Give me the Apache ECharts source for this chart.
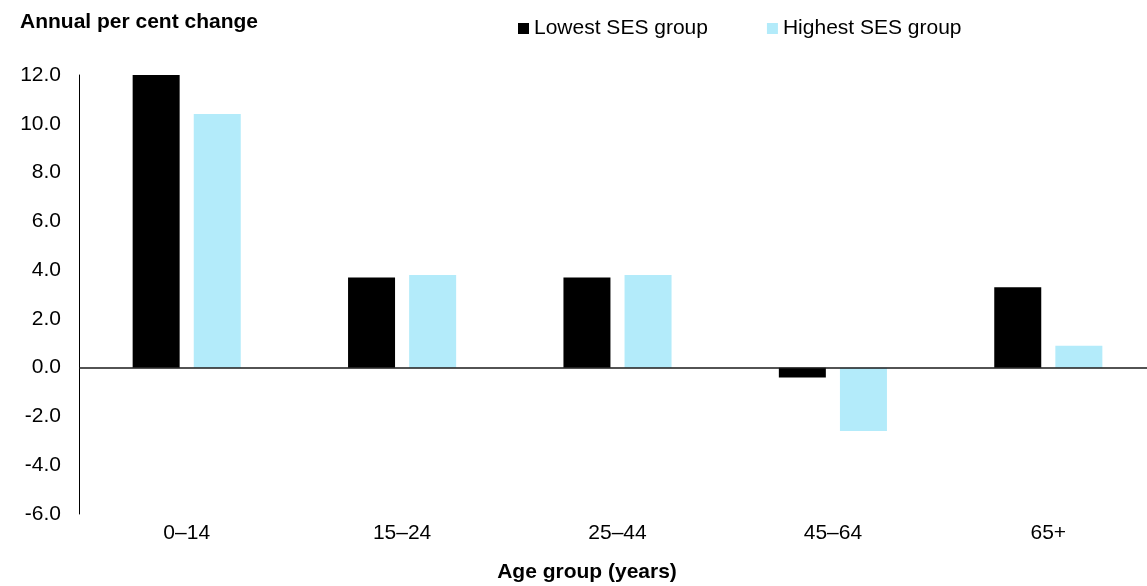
<!DOCTYPE html>
<html>
<head>
<meta charset="utf-8">
<script src="https://cdn.jsdelivr.net/npm/echarts@6/dist/echarts.min.js"></script>
<style>
  html, body { margin: 0; padding: 0; background: #fff; }
  #chart { width: 1147px; height: 586px; }
</style>
</head>
<body>
<div id="chart"></div>
<script>
const categories = ['0–14', '15–24', '25–44', '45–64', '65+'];
const lowestSES = [12.0, 3.7, 3.7, -0.4, 3.3];
const highestSES = [10.4, 3.8, 3.8, -2.6, 0.9];
const seriesNames = ['Lowest SES group', 'Highest SES group'];
const yTitle = 'Annual per cent change';
const xTitle = 'Age group (years)';

const font = 'Liberation Sans, Arial, sans-serif';
const chart = echarts.init(document.getElementById('chart'));
chart.setOption({
  animation: false,
  backgroundColor: '#fff',
  textStyle: { fontFamily: font },
  title: {
    text: yTitle,
    left: 15, top: 7,
    textStyle: { fontFamily: font, fontSize: 21, fontWeight: 'bold', color: '#000' }
  },
  legend: {
    data: seriesNames,
    left: 513, top: 13,
    icon: 'rect',
    itemWidth: 11, itemHeight: 11,
    itemGap: 59,
    textStyle: { fontFamily: font, fontSize: 21, color: '#000' }
  },
  grid: { left: 79, top: 75, width: 1077, height: 439, containLabel: false, outerBoundsMode: 'none' },
  xAxis: {
    type: 'category',
    data: categories,
    axisLine: { show: false, onZero: false },
    axisTick: { show: false },
    axisLabel: { margin: 9, fontSize: 21, color: '#000', fontFamily: font }
  },
  yAxis: {
    type: 'value',
    min: -6, max: 12, interval: 2,
    axisLine: { show: true, lineStyle: { color: '#000', width: 1 } },
    axisTick: { show: false },
    splitLine: { show: false },
    axisLabel: {
      margin: 18, fontSize: 21, color: '#000', fontFamily: font,
      formatter: v => v.toFixed(1)
    }
  },
  graphic: [{
    type: 'text',
    x: 587, y: 572,
    style: {
      text: xTitle, fontFamily: font, fontSize: 21, fontWeight: 'bold',
      fill: '#000', textAlign: 'center', textVerticalAlign: 'middle'
    }
  }],
  series: [
    {
      name: seriesNames[0], type: 'bar', data: lowestSES,
      barWidth: 47, barGap: '30%',
      itemStyle: { color: '#000' },
      markLine: {
        silent: true, symbol: 'none', label: { show: false },
        lineStyle: { color: '#1a1a1a', width: 1.5, type: 'solid' },
        data: [{ yAxis: 0 }]
      },
      z: 2
    },
    {
      name: seriesNames[1], type: 'bar', data: highestSES,
      barWidth: 47,
      itemStyle: { color: '#B3EBFA' },
      z: 2
    }
  ]
});
</script>
</body>
</html>
